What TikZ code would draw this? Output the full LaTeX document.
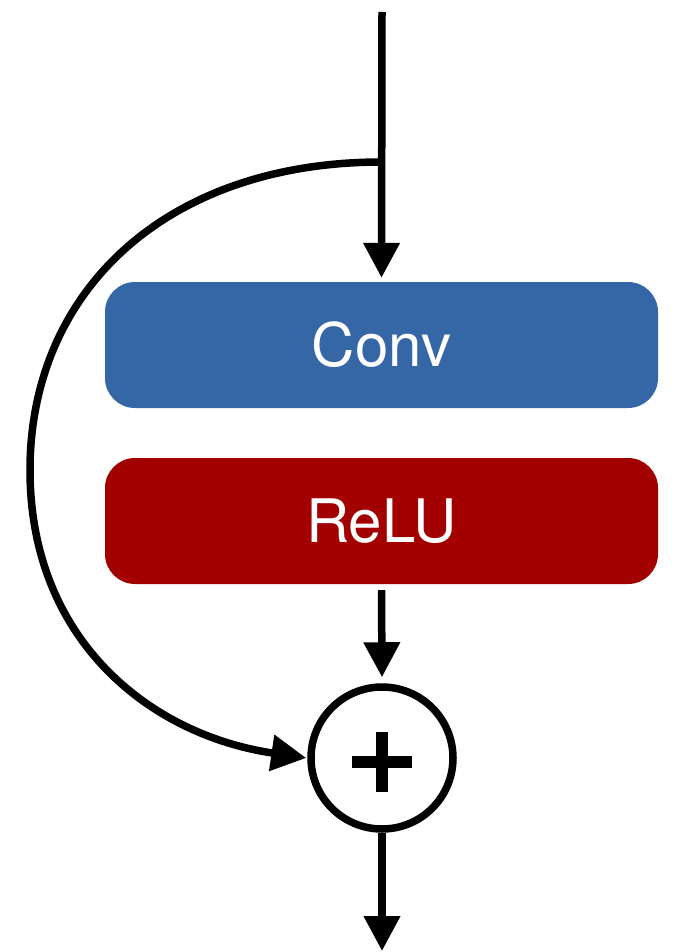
\documentclass[tikz,border=0pt]{standalone}
\usepackage{fontspec}
\setmainfont{TeX Gyre Heros}
\usetikzlibrary{arrows.meta}
\definecolor{convblue}{HTML}{3567A6}
\definecolor{reludred}{HTML}{A30000}
\begin{document}
\begin{tikzpicture}[x=1pt,y=-1pt,
  layerbox/.style={rounded corners=30pt, minimum width=553pt, minimum height=126pt,
    inner sep=0pt, text=white, font=\fontsize{60}{62}\selectfont},
  flow/.style={line width=7.5pt, -{Triangle[length=35pt,width=35pt]}},
  sumnode/.style={circle, draw, line width=7.5pt, minimum size=142pt, inner sep=0pt}]
  \useasboundingbox (0,0) rectangle (676,952);

  \coordinate (in) at (382,12);
  \coordinate (split) at (382,162);
  \node[layerbox, fill=convblue] (conv) at (381.5,345) {Conv};
  \node[layerbox, fill=reludred] (relu) at (381.5,521) {ReLU};
  \node[sumnode] (sum) at (382,758) {};
  \coordinate (out) at (382,951);

  % main path
  \draw[flow] (in) -- ([yshift=4pt]conv.north);
  \draw[flow] ([yshift=-6pt]relu.south) -- ([yshift=6pt]sum.north);
  \draw[flow] (sum.south) -- (out);

  % skip connection
  \draw[flow] (split) .. controls (165,162) and (30,292) .. (30,470)
     .. controls (30,640) and (150,735) .. ([xshift=-1pt]sum.west);

  % plus sign
  \draw[line width=12pt] ([xshift=-30pt,yshift=-4pt]sum.center) -- ([xshift=30pt,yshift=-4pt]sum.center);
  \draw[line width=12pt] ([yshift=26pt]sum.center) -- ([yshift=-34pt]sum.center);
\end{tikzpicture}
\end{document}
